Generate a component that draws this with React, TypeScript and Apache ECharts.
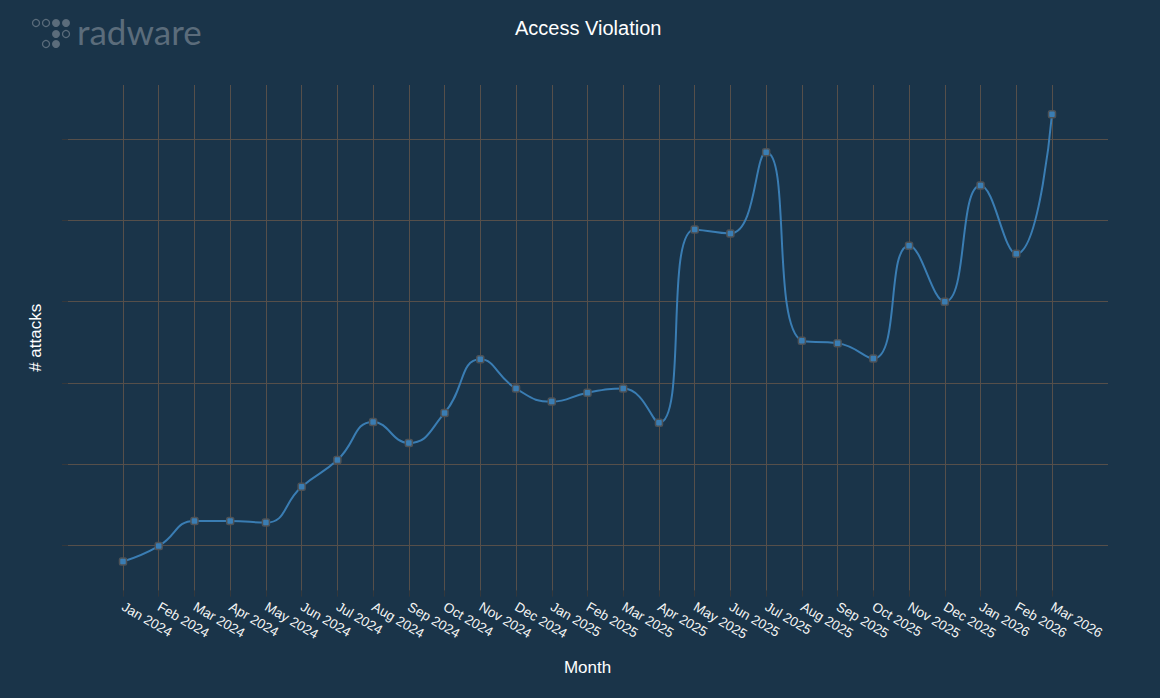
import React, { useEffect, useRef } from "react";
import * as echarts from "echarts";

const months = [
  "Jan 2024", "Feb 2024", "Mar 2024", "Apr 2024", "May 2024", "Jun 2024",
  "Jul 2024", "Aug 2024", "Sep 2024", "Oct 2024", "Nov 2024", "Dec 2024",
  "Jan 2025", "Feb 2025", "Mar 2025", "Apr 2025", "May 2025", "Jun 2025",
  "Jul 2025", "Aug 2025", "Sep 2025", "Oct 2025", "Nov 2025", "Dec 2025",
  "Jan 2026", "Feb 2026", "Mar 2026",
];

const attacks = [
  80, 99, 130, 130, 128, 172, 205, 252, 226, 263, 329, 293,
  277, 288, 293, 251, 489, 484, 584, 352, 349, 330, 469, 400,
  543, 459, 631,
];

const gridTicks = [100, 600, 100]; // min, max, interval of the horizontal grid lines

const FONT = "'Liberation Sans', Arial, sans-serif";
const GRID_LINE = "#564f4a";
const TICK = "#34383c";

export default function App() {
  const ref = useRef<HTMLDivElement>(null);

  useEffect(() => {
    if (!ref.current) return;
    const chart = echarts.init(ref.current, null, { renderer: "svg" });
    const dots = [
      { x: 36, y: 23, fill: false },
      { x: 46, y: 23, fill: false },
      { x: 56, y: 23, fill: true },
      { x: 66, y: 23, fill: true },
      { x: 56, y: 34, fill: true },
      { x: 66, y: 34, fill: false },
      { x: 46, y: 44, fill: false },
      { x: 56, y: 44, fill: true },
    ];
    const logoColor = "#5b6c7b";
    chart.setOption({
      animation: false,
      backgroundColor: "#1a3449",
      title: {
        text: "Access Violation",
        left: 515,
        top: 18,
        padding: 0,
        textStyle: { color: "#ffffff", fontSize: 20, fontWeight: "normal", fontFamily: FONT },
      },
      graphic: [
        ...dots.map((d) => ({
          type: "circle",
          shape: { cx: d.x, cy: d.y, r: d.fill ? 4 : 3.5 },
          style: d.fill
            ? { fill: logoColor }
            : { fill: "none", stroke: logoColor, lineWidth: 1.3 },
        })),
        {
          type: "text",
          left: 77,
          top: 13,
          style: {
            text: "radware",
            fill: logoColor,
            fontSize: 35,
            fontWeight: "normal",
            fontFamily: "Lato, 'Noto Sans', sans-serif",
          },
        },
      ],
      grid: [
        { left: 123, right: 108, top: 85, bottom: 107.3 },
        { left: 68, right: 52, top: 139.3, bottom: 152.7 },
      ],
      xAxis: [
        {
          type: "category",
          gridIndex: 0,
          data: months,
          boundaryGap: false,
          name: "Month",
          nameLocation: "middle",
          nameGap: 68,
          nameTextStyle: { color: "#ffffff", fontSize: 17, fontFamily: FONT },
          axisLine: { show: false },
          axisTick: { show: true, length: 6, lineStyle: { color: TICK } },
          axisLabel: {
            rotate: -30,
            interval: 0,
            margin: 15,
            color: "#f4f4f4",
            fontSize: 13.5,
            fontFamily: FONT,
          },
          splitLine: { show: true, lineStyle: { color: GRID_LINE, width: 1 } },
        },
        {
          type: "value",
          gridIndex: 1,
          show: false,
          min: 0,
          max: 1,
        },
      ],
      yAxis: [
        {
          type: "value",
          gridIndex: 0,
          min: 44.1,
          max: 666.9,
          name: "# attacks",
          nameLocation: "middle",
          nameGap: 79,
          nameTextStyle: { color: "#ffffff", fontSize: 17, fontFamily: FONT },
          axisLine: { show: false },
          axisTick: { show: false },
          axisLabel: { show: false },
          splitLine: { show: false },
        },
        {
          type: "value",
          gridIndex: 1,
          min: gridTicks[0],
          max: gridTicks[1],
          interval: gridTicks[2],
          axisLine: { show: false },
          axisTick: { show: true, length: 6, lineStyle: { color: TICK } },
          axisLabel: { show: false },
          splitLine: { show: true, lineStyle: { color: GRID_LINE, width: 1 } },
        },
      ],
      series: [
        {
          type: "line",
          xAxisIndex: 0,
          yAxisIndex: 0,
          data: attacks,
          smooth: 0.5,
          symbol: "roundRect",
          symbolSize: 7,
          lineStyle: { color: "#3a7db3", width: 2 },
          itemStyle: { color: "#3a7db3", borderColor: "#4d5257", borderWidth: 1.5 },
          z: 5,
        },
      ],
    });
    return () => chart.dispose();
  }, []);

  return (
    <div
      ref={ref}
      style={{ position: "fixed", left: 0, top: 0, width: 1160, height: 698 }}
    />
  );
}
